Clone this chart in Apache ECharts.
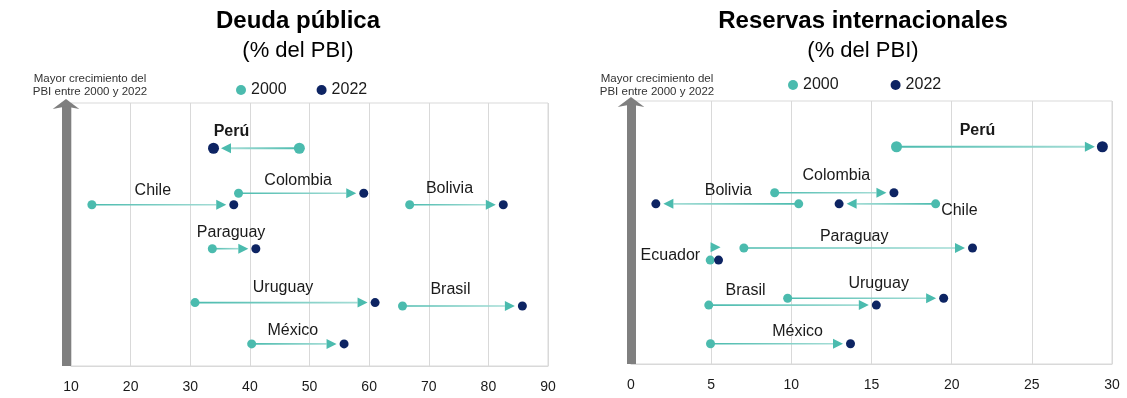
<!DOCTYPE html>
<html><head><meta charset="utf-8">
<script src="https://cdn.jsdelivr.net/npm/echarts@6/dist/echarts.min.js"></script>
<style>html,body{margin:0;padding:0;background:#fff}#c{width:1127px;height:398px}</style>
</head><body><div id="c"></div>
<script>
// ---- Data: Deuda pública (% del PBI)
const debtCountries = ['Perú','Colombia','Chile','Bolivia','Paraguay','Uruguay','Brasil','México'];
const debt2000 = [48.3, 38.1, 13.5, 66.8, 33.7, 30.8, 65.6, 40.3];
const debt2022 = [33.9, 59.1, 37.3, 82.5, 41.0, 61.0, 85.7, 55.8];
// vertical position = ranking of GDP growth 2000-2022 (higher = more growth)
const debtGrowthPos = [82.8, 65.7, 61.3, 61.3, 44.6, 24.1, 22.8, 8.4];

// ---- Data: Reservas internacionales (% del PBI)
const resCountries = ['Perú','Colombia','Bolivia','Chile','Paraguay','Ecuador','Uruguay','Brasil','México'];
const res2000 = [16.56, 8.96, 10.46, 19.0, 7.04, 4.94, 9.77, 4.85, 4.96];
const res2022 = [29.4, 16.4, 1.55, 12.98, 21.3, 5.46, 19.5, 15.3, 13.69];
const resGrowthPos = [82.6, 65.1, 60.9, 60.9, 44.1, 39.5, 25.0, 22.4, 7.7];
const resArrowPos = [82.6, 65.1, 60.9, 60.9, 44.1, 44.4, 25.0, 22.4, 7.7];

const debtTicks = ['10','20','30','40','50','60','70','80','90'];
const resTicks = ['0','5','10','15','20','25','30'];
const legendNames = ['2000','2022'];

// ---- Layout / style (not data)
const TEAL = '#4BBBAE', NAVY = '#0D2463', GRAY = '#7F7F7F', GRID = '#D9D9D9';
const FONT = 'Liberation Sans, Arial, sans-serif';
const debtLabelOff = [[-25,-17],[-3,-13],[-10,-14],[-7,-16],[-3,-16],[-2,-15],[-12,-16],[-5,-13]];
const resLabelOff = [[-22,-16],[2,-17],[1,-13],[72,7],[-4,-11],[-44,-5],[13,-15],[-47,-14],[17,-12]];

function arrowRender(names, offsets) {
  return function (params, api) {
    const i = params.dataIndex;
    const x0 = api.value(0), x1 = api.value(1), y = api.value(2), ya = api.value(3);
    const p0 = api.coord([x0, ya]), p1 = api.coord([x1, ya]);
    const d0 = api.coord([x0, y]), d1 = api.coord([x1, y]);
    const dir = p1[0] >= p0[0] ? 1 : -1;
    const sameRow = Math.abs(ya - y) < 0.01;
    const gap = sameRow ? 7.5 : -2;
    const tipX = p1[0] - dir * gap;
    const headLen = 10, headW = 5;
    const baseX = tipX - dir * headLen;
    const bold = names[i] === 'Perú';
    const children = [];
    if ((baseX - p0[0]) * dir > 0) {
      children.push({
        type: 'line',
        shape: { x1: p0[0], y1: p0[1], x2: baseX, y2: p0[1] },
        style: {
          lineWidth: bold ? 2 : 1.6,
          stroke: new echarts.graphic.LinearGradient(p0[0], 0, baseX, 0, [
            { offset: 0, color: TEAL }, { offset: 1, color: '#A3DCD5' }], true)
        }
      });
    }
    children.push({
      type: 'polygon',
      shape: { points: [[tipX, p0[1]], [baseX, p0[1] - headW], [baseX, p0[1] + headW]] },
      style: { fill: TEAL }
    });
    const off = offsets[i];
    children.push({
      type: 'text',
      style: {
        text: names[i],
        x: (d0[0] + d1[0]) / 2 + off[0],
        y: d0[1] + off[1],
        align: 'center', verticalAlign: 'middle',
        font: (bold ? 'bold ' : '') + '16px ' + FONT,
        fill: '#1a1a1a'
      }
    });
    return { type: 'group', children: children };
  };
}

function dotSize(names) {
  return function (v, p) { return names[p.dataIndex] === 'Perú' ? 11 : 9; };
}

const chart = echarts.init(document.getElementById('c'), null, { renderer: 'canvas' });

function xAxisFor(gridIndex, min, max, interval, ticks) {
  return {
    gridIndex, type: 'value', min, max, interval,
    axisLine: { show: true, lineStyle: { color: GRID, width: 1 } },
    axisTick: { show: false },
    splitLine: { show: true, lineStyle: { color: GRID, width: 1 } },
    axisLabel: {
      margin: 14, fontSize: 14, color: '#1a1a1a', fontFamily: FONT,
      formatter: function (v) { const k = Math.round((v - min) / interval); return ticks[k] !== undefined ? ticks[k] : ''; }
    }
  };
}
function yAxisFor(gridIndex) {
  return {
    gridIndex, type: 'value', min: 0, max: 100, offset: 5,
    axisLine: { show: true, symbol: ['none', 'arrow'], symbolSize: [20, 10], symbolOffset: [0, 4],
      lineStyle: { color: GRAY, width: 9, cap: 'butt' } },
    axisTick: { show: false }, axisLabel: { show: false }, splitLine: { show: false }
  };
}

const option = {
  animation: false,
  textStyle: { fontFamily: FONT },
  title: [
    { text: 'Deuda pública', left: 293, top: 4, textAlign: 'center',
      textStyle: { fontSize: 24, fontWeight: 'bold', color: '#000', fontFamily: FONT } },
    { text: '(% del PBI)', left: 293, top: 35, textAlign: 'center',
      textStyle: { fontSize: 22, fontWeight: 'normal', color: '#000', fontFamily: FONT } },
    { text: 'Reservas internacionales', left: 858, top: 4, textAlign: 'center',
      textStyle: { fontSize: 24, fontWeight: 'bold', color: '#000', fontFamily: FONT } },
    { text: '(% del PBI)', left: 858, top: 35, textAlign: 'center',
      textStyle: { fontSize: 22, fontWeight: 'normal', color: '#000', fontFamily: FONT } },
    { text: 'Mayor crecimiento del\nPBI entre 2000 y 2022', left: 85, top: 67, textAlign: 'center',
      textStyle: { fontSize: 11.5, fontWeight: 'normal', color: '#333', lineHeight: 13, fontFamily: FONT } },
    { text: 'Mayor crecimiento del\nPBI entre 2000 y 2022', left: 652, top: 67, textAlign: 'center',
      textStyle: { fontSize: 11.5, fontWeight: 'normal', color: '#333', lineHeight: 13, fontFamily: FONT } }
  ],
  legend: [
    { data: legendNames, left: 231, top: 77, icon: 'circle', itemWidth: 10, itemHeight: 10, itemGap: 30,
      textStyle: { fontSize: 16, color: '#1a1a1a', fontFamily: FONT, padding: [4, 0, 0, 0] } },
    { data: legendNames, left: 783, top: 72, icon: 'circle', itemWidth: 10, itemHeight: 10, itemGap: 52,
      textStyle: { fontSize: 16, color: '#1a1a1a', fontFamily: FONT, padding: [4, 0, 0, 0] } }
  ],
  grid: [
    { left: 71, right: 579, top: 103, bottom: 32, show: true, borderColor: GRID, borderWidth: 1, containLabel: false },
    { left: 631, right: 15, top: 101, bottom: 34, show: true, borderColor: GRID, borderWidth: 1, containLabel: false }
  ],
  xAxis: [
    xAxisFor(0, 10, 90, 10, debtTicks),
    xAxisFor(1, 0, 30, 5, resTicks)
  ],
  yAxis: [yAxisFor(0), yAxisFor(1)],
  series: [
    { type: 'custom', xAxisIndex: 0, yAxisIndex: 0, z: 2,
      renderItem: arrowRender(debtCountries, debtLabelOff),
      encode: { x: [0, 1], y: 2 },
      data: debtCountries.map((c, i) => [debt2000[i], debt2022[i], debtGrowthPos[i], debtGrowthPos[i]]) },
    { type: 'custom', xAxisIndex: 1, yAxisIndex: 1, z: 2,
      renderItem: arrowRender(resCountries, resLabelOff),
      encode: { x: [0, 1], y: 2 },
      data: resCountries.map((c, i) => [res2000[i], res2022[i], resGrowthPos[i], resArrowPos[i]]) },
    { name: '2000', type: 'scatter', xAxisIndex: 0, yAxisIndex: 0, z: 5, itemStyle: { color: TEAL, opacity: 1 },
      symbolSize: dotSize(debtCountries), data: debtCountries.map((c, i) => [debt2000[i], debtGrowthPos[i]]) },
    { name: '2022', type: 'scatter', xAxisIndex: 0, yAxisIndex: 0, z: 5, itemStyle: { color: NAVY, opacity: 1 },
      symbolSize: dotSize(debtCountries), data: debtCountries.map((c, i) => [debt2022[i], debtGrowthPos[i]]) },
    { name: '2000', type: 'scatter', xAxisIndex: 1, yAxisIndex: 1, z: 5, itemStyle: { color: TEAL, opacity: 1 },
      symbolSize: dotSize(resCountries), data: resCountries.map((c, i) => [res2000[i], resGrowthPos[i]]) },
    { name: '2022', type: 'scatter', xAxisIndex: 1, yAxisIndex: 1, z: 5, itemStyle: { color: NAVY, opacity: 1 },
      symbolSize: dotSize(resCountries), data: resCountries.map((c, i) => [res2022[i], resGrowthPos[i]]) }
  ]
};
chart.setOption(option);
</script></body></html>
